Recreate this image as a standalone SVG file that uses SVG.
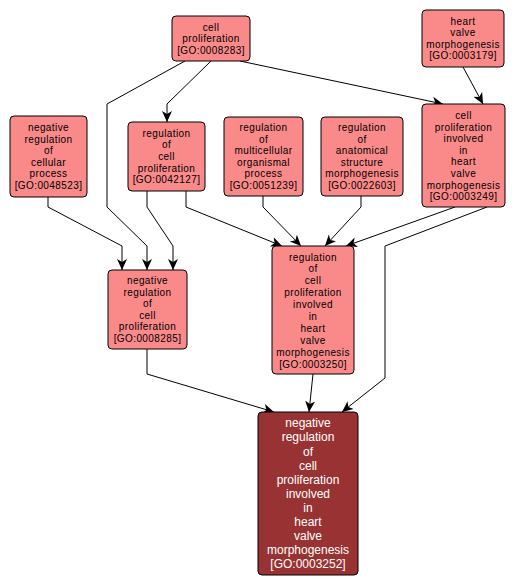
<svg xmlns="http://www.w3.org/2000/svg" width="515" height="588" viewBox="0 0 515 588">
<style>
.n rect{fill:#FA8A8A;stroke:#000;stroke-width:1}
.n text{font-family:"Liberation Sans",Arial,sans-serif;font-size:10px;letter-spacing:0.4px;fill:#000;text-anchor:middle}
.t rect{fill:#993333;stroke:#000;stroke-width:1}
.t text{font-family:"Liberation Sans",Arial,sans-serif;font-size:12px;fill:#fff;text-anchor:middle}
.e path{fill:none;stroke:#000;stroke-width:1;marker-end:url(#a)}
</style>
<defs>
<marker id="a" markerUnits="userSpaceOnUse" markerWidth="12" markerHeight="12" viewBox="0 0 12 10" refX="11" refY="5" orient="auto">
<path d="M0,0 L11,5 L0,10 L3,5 z" fill="#000"/>
</marker>
</defs>
<rect width="515" height="588" fill="#fff"/>
<g class="e" id="edges">
<path d="M185,61 L107,104 L107,207 L147,246 L147,270"/>
<path d="M211,61 L167,104 L167,122"/>
<path d="M240,61 L443,104"/>
<path d="M463,67 L483,104"/>
<path d="M48,197 L48,207 L122,246 L122,270"/>
<path d="M147,191 L147,207 L173,246 L173,270"/>
<path d="M186,191 L186,207 L282,246"/>
<path d="M263,196 L263,207 L301,246"/>
<path d="M361,196 L361,207 L325,246"/>
<path d="M455,207 L346,246"/>
<path d="M487,207 L385,246 L385,378 L342,412"/>
<path d="M147,349 L147,374 L274,412"/>
<path d="M313,374 L309,412"/>
</g>
<g class="n" id="n0008283">
<rect x="172" y="16" width="78" height="45" rx="4"/>
<text x="211" y="30.7">cell</text>
<text x="211" y="42.3">proliferation</text>
<text x="211" y="53.9">[GO:0008283]</text>
</g>
<g class="n" id="n0003179">
<rect x="422" y="10" width="82" height="57" rx="4"/>
<text x="463" y="24.6">heart</text>
<text x="463" y="36.2">valve</text>
<text x="463" y="47.8">morphogenesis</text>
<text x="463" y="59.4">[GO:0003179]</text>
</g>
<g class="n" id="n0048523">
<rect x="10" y="116" width="77" height="81" rx="4"/>
<text x="48.5" y="131">negative</text>
<text x="48.5" y="142.6">regulation</text>
<text x="48.5" y="154.2">of</text>
<text x="48.5" y="165.8">cellular</text>
<text x="48.5" y="177.4">process</text>
<text x="48.5" y="189">[GO:0048523]</text>
</g>
<g class="n" id="n0042127">
<rect x="128" y="122" width="77" height="69" rx="4"/>
<text x="166.5" y="136.8">regulation</text>
<text x="166.5" y="148.4">of</text>
<text x="166.5" y="160">cell</text>
<text x="166.5" y="171.6">proliferation</text>
<text x="166.5" y="183.2">[GO:0042127]</text>
</g>
<g class="n" id="n0051239">
<rect x="224" y="117" width="79" height="79" rx="4"/>
<text x="263.5" y="131">regulation</text>
<text x="263.5" y="142.6">of</text>
<text x="263.5" y="154.2">multicellular</text>
<text x="263.5" y="165.8">organismal</text>
<text x="263.5" y="177.4">process</text>
<text x="263.5" y="189">[GO:0051239]</text>
</g>
<g class="n" id="n0022603">
<rect x="321" y="117" width="82" height="79" rx="4"/>
<text x="362" y="131">regulation</text>
<text x="362" y="142.6">of</text>
<text x="362" y="154.2">anatomical</text>
<text x="362" y="165.8">structure</text>
<text x="362" y="177.4">morphogenesis</text>
<text x="362" y="189">[GO:0022603]</text>
</g>
<g class="n" id="n0003249">
<rect x="422" y="104" width="83" height="103" rx="4"/>
<text x="463.5" y="118.9">cell</text>
<text x="463.5" y="130.5">proliferation</text>
<text x="463.5" y="142.1">involved</text>
<text x="463.5" y="153.7">in</text>
<text x="463.5" y="165.3">heart</text>
<text x="463.5" y="176.9">valve</text>
<text x="463.5" y="188.5">morphogenesis</text>
<text x="463.5" y="200.1">[GO:0003249]</text>
</g>
<g class="n" id="n0008285">
<rect x="108" y="270" width="79" height="79" rx="4"/>
<text x="147.5" y="284">negative</text>
<text x="147.5" y="295.6">regulation</text>
<text x="147.5" y="307.2">of</text>
<text x="147.5" y="318.8">cell</text>
<text x="147.5" y="330.4">proliferation</text>
<text x="147.5" y="342">[GO:0008285]</text>
</g>
<g class="n" id="n0003250">
<rect x="272" y="246" width="82" height="128" rx="4"/>
<text x="313" y="260.5">regulation</text>
<text x="313" y="272.4">of</text>
<text x="313" y="284.3">cell</text>
<text x="313" y="296.2">proliferation</text>
<text x="313" y="308.1">involved</text>
<text x="313" y="320">in</text>
<text x="313" y="331.9">heart</text>
<text x="313" y="343.8">valve</text>
<text x="313" y="355.7">morphogenesis</text>
<text x="313" y="367.6">[GO:0003250]</text>
</g>
<g class="t" id="n0003252">
<rect x="258" y="412" width="100" height="163" rx="4"/>
<text x="308" y="427.3">negative</text>
<text x="308" y="441.4">regulation</text>
<text x="308" y="455.5">of</text>
<text x="308" y="469.6">cell</text>
<text x="308" y="483.7">proliferation</text>
<text x="308" y="497.8">involved</text>
<text x="308" y="511.9">in</text>
<text x="308" y="526">heart</text>
<text x="308" y="540.1">valve</text>
<text x="308" y="554.2">morphogenesis</text>
<text x="308" y="568.3">[GO:0003252]</text>
</g>
</svg>
